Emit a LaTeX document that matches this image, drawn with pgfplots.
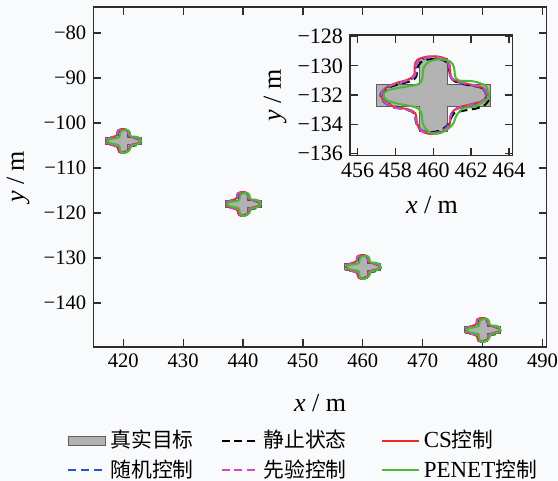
\documentclass[border=0pt]{standalone}
\usepackage{pgfplots}
\pgfplotsset{compat=1.18}
\usepackage{pgfplotstable}
\usepackage{fontspec}
\setmainfont{Liberation Serif}
\newfontfamily\cjk{Noto Sans CJK SC}

\definecolor{bgcol}{RGB}{249,250,252}
\definecolor{axcol}{RGB}{45,45,45}
\definecolor{crossfill}{RGB}{178,178,178}
\definecolor{crossedge}{RGB}{100,92,92}
\definecolor{csred}{RGB}{238,42,36}
\definecolor{rndblue}{RGB}{42,82,200}
\definecolor{primag}{RGB}{214,72,184}
\definecolor{penetgreen}{RGB}{72,186,52}

% target cross, offsets from its centre (m)
\pgfplotstableread{
dx dy
-3 -0.75
-0.75 -0.75
-0.75 -2.5
0.75 -2.5
0.75 -0.75
3 -0.75
3 0.75
0.75 0.75
0.75 2.5
-0.75 2.5
-0.75 0.75
-3 0.75
-3 -0.75
}\tabCross

% reconstructed contours, offsets from the target centre (m);
% the first two rows are repeated at the end to close each curve
\pgfplotstableread{
dx dy
2.97 -0.15
2.80 0.35
2.40 0.55
1.70 0.72
1.20 0.90
0.92 1.20
0.85 1.70
0.75 2.20
0.40 2.45
-0.20 2.47
-0.65 2.25
-0.85 1.80
-0.90 1.25
-1.20 0.95
-1.95 0.70
-2.50 0.40
-2.70 -0.05
-2.55 -0.45
-2.00 -0.80
-1.40 -1.00
-1.00 -1.25
-0.90 -1.90
-0.70 -2.40
-0.20 -2.55
0.30 -2.45
0.70 -2.15
0.90 -1.75
1.10 -1.25
1.70 -1.05
2.35 -0.90
2.80 -0.60
2.97 -0.15
2.80 0.35
}\tabStatic

\pgfplotstableread{
dx dy
2.83 0.00
2.70 0.40
2.48 0.55
1.77 0.78
1.25 0.95
1.00 1.15
0.90 1.50
0.88 2.00
0.70 2.45
0.20 2.65
-0.40 2.62
-0.85 2.40
-0.98 2.00
-1.00 1.40
-1.30 1.08
-2.05 0.78
-2.55 0.45
-2.75 0.02
-2.60 -0.40
-2.05 -0.82
-1.34 -0.97
-0.95 -1.25
-0.85 -1.95
-0.65 -2.45
-0.25 -2.65
0.30 -2.60
0.75 -2.30
0.88 -1.95
0.95 -1.30
1.25 -0.90
1.77 -0.70
2.48 -0.47
2.75 -0.25
2.83 0.00
2.70 0.40
}\tabCS

\pgfplotstableread{
dx dy
2.80 0.00
2.65 0.40
2.40 0.55
1.75 0.75
1.20 0.92
0.95 1.15
0.85 1.55
0.82 2.00
0.62 2.38
0.15 2.55
-0.40 2.52
-0.80 2.30
-0.92 1.90
-0.95 1.35
-1.25 1.02
-2.00 0.75
-2.58 0.42
-2.80 0.00
-2.64 -0.45
-2.10 -0.85
-1.40 -1.00
-1.02 -1.28
-0.88 -1.95
-0.62 -2.40
-0.20 -2.58
0.30 -2.52
0.70 -2.22
0.85 -1.85
0.95 -1.30
1.25 -0.95
1.80 -0.75
2.45 -0.52
2.72 -0.28
2.80 0.00
2.65 0.40
}\tabRandom

\pgfplotstableread{
dx dy
2.85 0.02
2.70 0.42
2.45 0.58
1.80 0.78
1.22 0.95
0.97 1.18
0.88 1.55
0.85 2.00
0.66 2.42
0.18 2.60
-0.38 2.56
-0.80 2.33
-0.94 1.95
-0.97 1.38
-1.28 1.05
-2.00 0.78
-2.55 0.45
-2.74 0.02
-2.60 -0.42
-2.05 -0.84
-1.38 -0.99
-1.00 -1.27
-0.87 -1.95
-0.63 -2.43
-0.22 -2.62
0.30 -2.56
0.72 -2.26
0.86 -1.90
0.95 -1.32
1.25 -0.93
1.80 -0.74
2.48 -0.50
2.76 -0.26
2.85 0.02
2.70 0.42
}\tabPrior

\pgfplotstableread{
dx dy
2.97 -0.05
2.85 0.40
2.74 0.67
2.12 0.94
1.33 1.01
1.15 1.35
1.10 1.90
0.90 2.30
0.35 2.45
-0.20 2.30
-0.50 1.90
-0.55 1.40
-0.64 0.90
-0.99 0.67
-1.87 0.49
-2.45 0.30
-2.62 0.00
-2.45 -0.35
-1.87 -0.59
-0.99 -0.82
-0.64 -1.16
-0.55 -1.96
-0.30 -2.45
0.00 -2.64
0.40 -2.60
0.80 -2.30
1.06 -1.96
1.24 -1.38
1.60 -0.90
2.12 -0.82
2.65 -0.47
2.90 -0.25
2.97 -0.05
2.85 0.40
}\tabPENET

\pgfplotsset{
  crossstyle/.style={fill=crossfill, draw=crossedge, line width=0.4pt,
    legend image code/.code={\draw[##1] (0pt,-2.3pt) rectangle (18.5pt,2.3pt);}},
  contour/.style={line width=1pt, smooth, tension=0.55},
  dashedc/.style={dash pattern=on 4pt off 2.3pt},
  frame/.style={
    scale only axis,
    axis line style={axcol, line width=0.6pt},
    every tick/.style={axcol, line width=0.6pt},
    major tick length=4pt,
    tick align=inside,
  },
}

% one target: cross plus the five contours, centred at (#1,#2)
\newcommand{\target}[3]{%
  \addplot[crossstyle,#3] table[x expr=\thisrow{dx}+#1, y expr=\thisrow{dy}+#2]{\tabCross};
  \addplot[contour,dashedc,black,#3] table[x expr=\thisrow{dx}+#1, y expr=\thisrow{dy}+#2]{\tabStatic};
  \addplot[contour,csred,#3] table[x expr=\thisrow{dx}+#1, y expr=\thisrow{dy}+#2]{\tabCS};
  \addplot[contour,dashedc,rndblue,#3] table[x expr=\thisrow{dx}+#1, y expr=\thisrow{dy}+#2]{\tabRandom};
  \addplot[contour,dashedc,primag,#3] table[x expr=\thisrow{dx}+#1, y expr=\thisrow{dy}+#2]{\tabPrior};
  \addplot[contour,penetgreen,#3] table[x expr=\thisrow{dx}+#1, y expr=\thisrow{dy}+#2]{\tabPENET};
}

\newcommand{\lat}[1]{{\fontsize{11.5}{12}\selectfont #1}}

\begin{document}
\begin{tikzpicture}
\fill[bgcol] (-46.65pt,-67pt) rectangle (232.35pt,173.5pt);

\begin{axis}[
  frame,
  at={(0pt,0pt)}, anchor=south west,
  width=226.7pt, height=170pt,
  xmin=415, xmax=490.7, ymin=-149.8, ymax=-74.2,
  xtick={420,430,440,450,460,470,480,490},
  xticklabels={420,430,440,450,460,470,480,490},
  ytick={-140,-130,-120,-110,-100,-90,-80},
  yticklabels={−140,−130,−120,−110,−100,−90,−80},
  ticklabel style={font=\fontsize{10.3}{12}\selectfont, text=black},
  xlabel={\textit{x} / m}, ylabel={\textit{y} / m},
  label style={font=\fontsize{13}{15}\selectfont},
  xlabel style={at={(axis description cs:0.5,-0.165)}, anchor=center},
  ylabel style={at={(axis description cs:-0.166,0.5)}, anchor=center},
  legend image code/.code={\draw[#1] (0pt,0pt) -- (18.5pt,0pt);},
  legend columns=3,
  legend cell align=left,
  legend entries={{\cjk 真实目标},{\cjk 静止状态},\lat{CS}{\cjk 控制},{\cjk 随机控制},{\cjk 先验控制},\lat{PENET}{\cjk 控制}},
  legend style={draw=none, fill=none, inner sep=0pt,
    at={(axis description cs:-0.058,-0.232)}, anchor=north west,
    font=\fontsize{10.4}{12}\selectfont, row sep=0.5pt,
    /tikz/column 2/.style={column sep=11.5pt},
    /tikz/column 4/.style={column sep=15pt}},
]
\target{420}{-104}{}
\target{440}{-118}{forget plot}
\target{460}{-132}{forget plot}
\target{480}{-146}{forget plot}
\end{axis}

\begin{axis}[
  frame,
  at={(128.35pt,95.65pt)}, anchor=south west,
  width=81.35pt, height=60.35pt,
  xmin=455.6, xmax=464.2, ymin=-136.16, ymax=-127.88,
  xtick={456,458,460,462,464},
  xticklabels={456,458,460,462,464},
  ytick={-136,-134,-132,-130,-128},
  yticklabels={−136,−134,−132,−130,−128},
  ticklabel style={font=\fontsize{11}{13}\selectfont, text=black},
  xlabel={\textit{x} / m}, ylabel={\textit{y} / m},
  label style={font=\fontsize{13}{15}\selectfont},
  xlabel style={at={(axis description cs:0.504,-0.408)}, anchor=center},
  ylabel style={at={(axis description cs:-0.461,0.5)}, anchor=center},
]
\target{460}{-132}{}
\end{axis}

\pgfresetboundingbox
\path (-46.65pt,-67pt) rectangle (232.35pt,173.5pt);
\end{tikzpicture}
\end{document}
